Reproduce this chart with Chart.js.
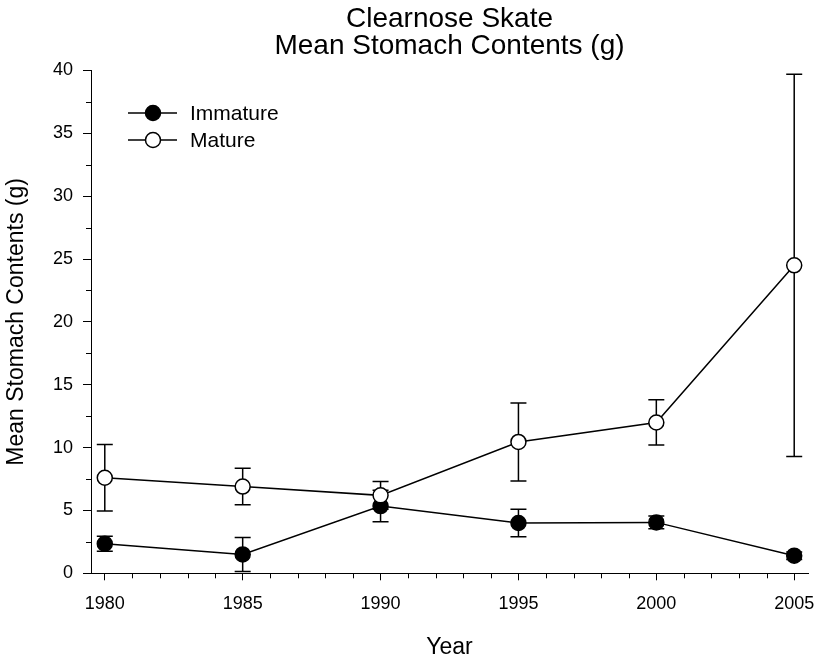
<!DOCTYPE html>
<html>
<head>
<meta charset="utf-8">
<script src="https://cdn.jsdelivr.net/npm/chart.js@4.4.1/dist/chart.umd.min.js"></script>
<style>
    html, body { margin: 0; padding: 0; background: #fff; }
    #wrap { width: 817px; height: 661px; }
</style>
</head>
<body>
<div id="wrap"><canvas id="skateChart"></canvas></div>
<script>
// values
const years = [1980, 1985, 1990, 1995, 2000, 2005];
const immatureMean = [2.35, 1.5, 5.35, 4.0, 4.05, 1.4];
const immatureErr = [0.6, 1.35, 1.25, 1.1, 0.5, 0.3];
const matureMean = [7.6, 6.9, 6.2, 10.45, 12.0, 24.5];
const matureErr = [2.65, 1.45, 1.1, 3.1, 1.8, 15.2];
const xTicks = [1980, 1985, 1990, 1995, 2000, 2005];
const yTicks = [0, 5, 10, 15, 20, 25, 30, 35, 40];
const titleLines = ['Clearnose Skate', 'Mean Stomach Contents (g)'];

const FONT = "'Liberation Sans', Arial, sans-serif";

const toPoints = (means) => years.map((yr, i) => ({ x: yr, y: means[i] }));

// error bars drawn under the markers
const errorBars = {
    id: 'errorBars',
    beforeDatasetsDraw(chart) {
        const ctx = chart.ctx;
        const xs = chart.scales.x, ys = chart.scales.y;
        const sets = [[immatureMean, immatureErr], [matureMean, matureErr]];
        ctx.save();
        ctx.strokeStyle = '#000';
        ctx.lineWidth = 1.5;
        sets.forEach(([means, errs]) => {
            years.forEach((yr, i) => {
                const px = xs.getPixelForValue(yr);
                const top = ys.getPixelForValue(means[i] + errs[i]);
                const bot = ys.getPixelForValue(means[i] - errs[i]);
                ctx.beginPath();
                ctx.moveTo(px, top); ctx.lineTo(px, bot);
                ctx.moveTo(px - 8, top); ctx.lineTo(px + 8, top);
                ctx.moveTo(px - 8, bot); ctx.lineTo(px + 8, bot);
                ctx.stroke();
            });
        });
        ctx.restore();
    }
};

// title over the plot area, minor ticks, legend box in the upper left
const extras = {
    id: 'extras',
    afterDraw(chart) {
        const ctx = chart.ctx;
        const xs = chart.scales.x, ys = chart.scales.y;
        const area = chart.chartArea;
        ctx.save();

        ctx.fillStyle = '#000';
        ctx.font = '28px ' + FONT;
        ctx.textAlign = 'center';
        ctx.textBaseline = 'alphabetic';
        const cx = (area.left + area.right) / 2;
        ctx.fillText(titleLines[0], cx, 27);
        ctx.fillText(titleLines[1], cx, 53.5);

        ctx.strokeStyle = '#000';
        ctx.lineWidth = 1;
        ctx.beginPath();
        for (let yr = 1980; yr <= 2005; yr++) {
            if (yr % 5 === 0) continue;
            const px = Math.round(xs.getPixelForValue(yr)) + 0.5;
            ctx.moveTo(px, area.bottom);
            ctx.lineTo(px, area.bottom + 5);
        }
        for (let v = 2.5; v < 40; v += 5) {
            const py = Math.round(ys.getPixelForValue(v)) + 0.5;
            ctx.moveTo(area.left, py);
            ctx.lineTo(area.left - 5, py);
        }
        ctx.stroke();

        const items = [
            { label: 'Immature', fill: '#000', y: 113 },
            { label: 'Mature', fill: '#fff', y: 140 }
        ];
        ctx.font = '21px ' + FONT;
        ctx.textAlign = 'left';
        ctx.textBaseline = 'middle';
        items.forEach(item => {
            ctx.lineWidth = 1.5;
            ctx.beginPath();
            ctx.moveTo(128, item.y); ctx.lineTo(177, item.y);
            ctx.stroke();
            ctx.beginPath();
            ctx.arc(153, item.y, 7.5, 0, Math.PI * 2);
            ctx.fillStyle = item.fill;
            ctx.fill();
            ctx.stroke();
            ctx.fillStyle = '#000';
            ctx.fillText(item.label, 190, item.y + 1);
        });
        ctx.restore();
    }
};

const ctx = document.getElementById('skateChart').getContext('2d');
new Chart(ctx, {
    type: 'line',
    data: {
        datasets: [
            {
                label: 'Immature',
                data: toPoints(immatureMean),
                borderColor: '#000',
                borderWidth: 1.5,
                backgroundColor: '#000',
                pointBackgroundColor: '#000',
                pointBorderColor: '#000',
                pointBorderWidth: 1.5,
                pointRadius: 7.5,
                tension: 0,
                order: 1
            },
            {
                label: 'Mature',
                data: toPoints(matureMean),
                borderColor: '#000',
                borderWidth: 1.5,
                backgroundColor: '#fff',
                pointBackgroundColor: '#fff',
                pointBorderColor: '#000',
                pointBorderWidth: 1.5,
                pointRadius: 7.5,
                tension: 0,
                order: 0
            }
        ]
    },
    options: {
        responsive: true,
        maintainAspectRatio: false,
        animation: false,
        layout: { padding: { left: 0, right: 9, top: 70.5, bottom: 0 } },
        scales: {
            x: {
                type: 'linear',
                min: 1979.5,
                max: 2005.5,
                afterBuildTicks: (scale) => { scale.ticks = xTicks.map(v => ({ value: v })); },
                afterFit: (scale) => {
                    scale.height = 87.7;
                    // the 2005 label may hang past the plot edge, as in the figure
                    scale.paddingLeft = 0;
                    scale.paddingRight = 0;
                },
                grid: { drawOnChartArea: false, tickLength: 7, color: '#000', lineWidth: 1 },
                border: { color: '#000', width: 1 },
                ticks: { color: '#000', padding: 13, font: { family: FONT, size: 18 }, callback: v => String(v) },
                title: { display: true, text: 'Year', color: '#000', font: { family: FONT, size: 23 }, padding: { top: 0, bottom: 0 } }
            },
            y: {
                min: 0,
                max: 40,
                afterBuildTicks: (scale) => { scale.ticks = yTicks.map(v => ({ value: v })); },
                afterFit: (scale) => { scale.width = 91; },
                grid: { drawOnChartArea: false, tickLength: 8, color: '#000', lineWidth: 1 },
                border: { color: '#000', width: 1 },
                ticks: { color: '#000', padding: 10, font: { family: FONT, size: 18 } },
                title: { display: true, text: 'Mean Stomach Contents (g)', color: '#000', font: { family: FONT, size: 23 }, padding: { top: 3, bottom: 0 } }
            }
        },
        plugins: {
            legend: { display: false },
            tooltip: { enabled: false },
            title: { display: false }
        }
    },
    plugins: [errorBars, extras]
});
</script>
</body>
</html>
